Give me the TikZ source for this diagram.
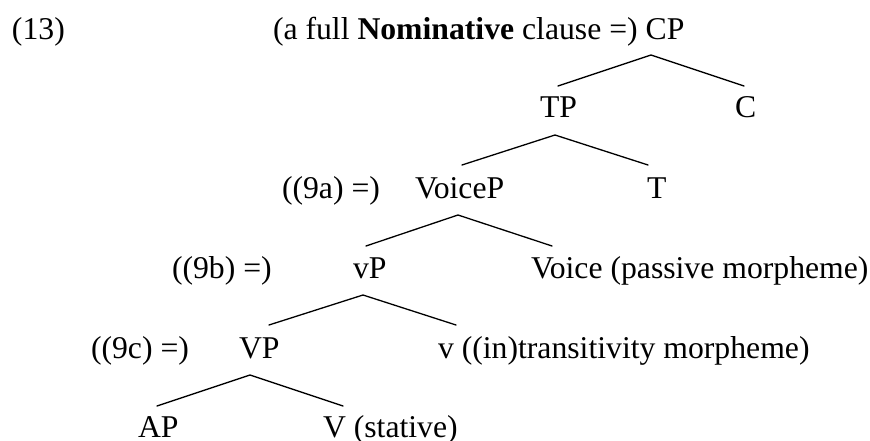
\documentclass[tikz,border=0pt]{standalone}
\usepackage{fontspec}
\setmainfont{Liberation Serif}
\begin{document}
\begin{tikzpicture}[x=1pt,y=-1pt,
  lbl/.style={anchor=base west,inner sep=0pt,outer sep=0pt,font=\fontsize{31.7}{38}\selectfont},
  branch/.style={line width=1.3pt,line cap=round}]
\useasboundingbox (0,0) rectangle (870,441);
% row 1
\node[lbl] (ex) at (12,39.5) {(13)};
\node[lbl] (title) at (273,39.5) {(a full \textbf{Nominative} clause =) CP};
% row 2
\node[lbl] (TP) at (540,118) {TP};
\node[lbl] (C) at (735,118) {C};
% row 3
\node[lbl] (l9a) at (282,198) {((9a) =)};
\node[lbl] (VoiceP) at (415,198) {VoiceP};
\node[lbl] (T) at (647,198) {T};
% row 4
\node[lbl] (l9b) at (172,278) {((9b) =)};
\node[lbl] (vP) at (353,278) {vP};
\node[lbl] (Voice) at (531,278) {Voice (passive morpheme)};
% row 5
\node[lbl] (l9c) at (91,358) {((9c) =)};
\node[lbl] (VP) at (239,358) {VP};
\node[lbl] (v) at (438,358) {v ((in)transitivity morpheme)};
% row 6
\node[lbl] (AP) at (138,437) {AP};
\node[lbl] (V) at (323,437) {V (stative)};
% branch points
\coordinate (cpA) at (651,55);  \coordinate (cpL) at (558,86);  \coordinate (cpR) at (744,86);
\coordinate (tpA) at (555,135); \coordinate (tpL) at (462,165); \coordinate (tpR) at (648,165);
\coordinate (vcA) at (458,215); \coordinate (vcL) at (366,246); \coordinate (vcR) at (552,246);
\coordinate (vpA) at (363,295); \coordinate (vpL) at (269,325); \coordinate (vpR) at (456,325);
\coordinate (VPA) at (250,375); \coordinate (VPL) at (157,406); \coordinate (VPR) at (343,406);
\draw[branch] (cpL) -- (cpA) -- (cpR);
\draw[branch] (tpL) -- (tpA) -- (tpR);
\draw[branch] (vcL) -- (vcA) -- (vcR);
\draw[branch] (vpL) -- (vpA) -- (vpR);
\draw[branch] (VPL) -- (VPA) -- (VPR);
\end{tikzpicture}
\end{document}
